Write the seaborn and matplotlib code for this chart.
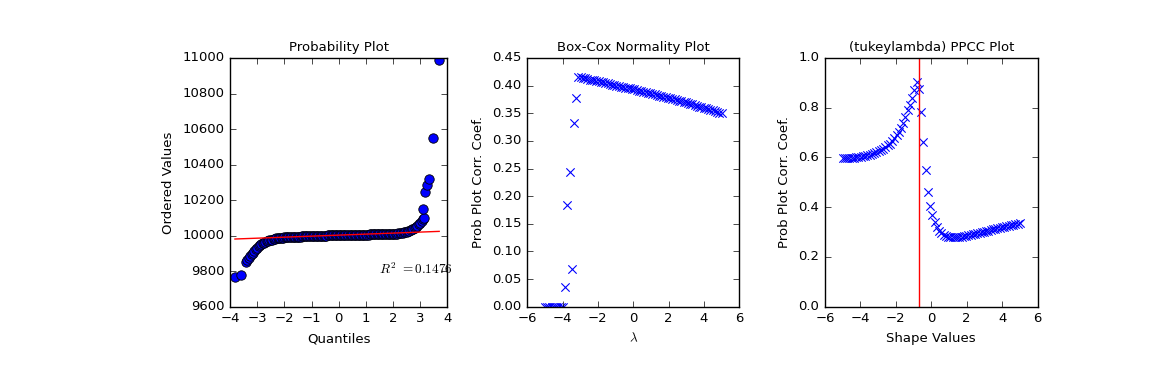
import matplotlib
matplotlib.use("Agg")
import matplotlib.pyplot as plt
import seaborn as sns

# ---------------- data ----------------
# probability plot: theoretical quantiles vs ordered values
quantiles = [
    -3.82, -3.58, -3.42, -3.36, -3.30, -3.25, -3.20, -3.15, -3.10, -3.05,
    -3.00, -2.95, -2.90, -2.85, -2.80, -2.75, -2.70, -2.65, -2.60, -2.55,
    -2.50, -2.45, -2.40, -2.35, -2.30, -2.25, -2.20, -2.15, -2.10, -2.05,
    -2.00, -1.95, -1.90, -1.85, -1.80, -1.75, -1.70, -1.65, -1.60, -1.55,
    -1.50, -1.45, -1.40, -1.35, -1.30, -1.25, -1.20, -1.15, -1.10, -1.05,
    -1.00, -0.95, -0.90, -0.85, -0.80, -0.75, -0.70, -0.65, -0.60, -0.55,
    -0.50, -0.45, -0.40, -0.35, -0.30, -0.25, -0.20, -0.15, -0.10, -0.05,
    0.00, 0.05, 0.10, 0.15, 0.20, 0.25, 0.30, 0.35, 0.40, 0.45,
    0.50, 0.55, 0.60, 0.65, 0.70, 0.75, 0.80, 0.85, 0.90, 0.95,
    1.00, 1.05, 1.10, 1.15, 1.20, 1.25, 1.30, 1.35, 1.40, 1.45,
    1.50, 1.55, 1.60, 1.65, 1.70, 1.75, 1.80, 1.85, 1.90, 1.95,
    2.00, 2.05, 2.10, 2.15, 2.20, 2.25, 2.30, 2.35, 2.40, 2.45,
    2.50, 2.55, 2.60, 2.65, 2.70, 2.75, 2.80, 2.85, 2.90, 2.95,
    3.00, 3.05, 3.10, 3.14, 3.12, 3.17, 3.26, 3.32, 3.47, 3.70,
]
ordered_values = [
    9768, 9777, 9852, 9862, 9872, 9885, 9895, 9905, 9915, 9925,
    9932, 9940, 9946, 9952, 9957, 9961, 9965, 9968, 9971, 9974,
    9976, 9978, 9980, 9982, 9984, 9985, 9986, 9987, 9988, 9989,
    9990, 9990, 9991, 9991, 9992, 9992, 9993, 9993, 9994, 9994,
    9995, 9995, 9995, 9996, 9996, 9996, 9997, 9997, 9997, 9998,
    9998, 9998, 9998, 9999, 9999, 9999, 9999, 10000, 10000, 10000,
    10000, 10000, 10001, 10001, 10001, 10001, 10001, 10002, 10002, 10002,
    10002, 10002, 10002, 10003, 10003, 10003, 10003, 10003, 10004, 10004,
    10004, 10004, 10004, 10005, 10005, 10005, 10005, 10005, 10006, 10006,
    10006, 10006, 10006, 10007, 10007, 10007, 10007, 10007, 10007, 10008,
    10008, 10008, 10008, 10008, 10008, 10008, 10008, 10008, 10009, 10009,
    10009, 10010, 10011, 10012, 10013, 10014, 10016, 10017, 10019, 10021,
    10023, 10025, 10028, 10031, 10035, 10039, 10044, 10050, 10056, 10063,
    10070, 10080, 10092, 10098, 10148, 10247, 10285, 10318, 10548, 10988,
]
fit_x = [-3.82, 3.70]
fit_y = [9981, 10024]
r_squared = 0.1476

# shape / lambda grid shared by the two PPCC-type plots
shape_grid = [
    -5.000, -4.873, -4.747, -4.620, -4.494, -4.367, -4.241, -4.114, -3.987, -3.861,
    -3.734, -3.608, -3.481, -3.354, -3.228, -3.101, -2.975, -2.848, -2.722, -2.595,
    -2.468, -2.342, -2.215, -2.089, -1.962, -1.835, -1.709, -1.582, -1.456, -1.329,
    -1.203, -1.076, -0.949, -0.823, -0.696, -0.570, -0.443, -0.316, -0.190, -0.063,
    0.063, 0.190, 0.316, 0.443, 0.570, 0.696, 0.823, 0.949, 1.076, 1.203,
    1.329, 1.456, 1.582, 1.709, 1.835, 1.962, 2.089, 2.215, 2.342, 2.468,
    2.595, 2.722, 2.848, 2.975, 3.101, 3.228, 3.354, 3.481, 3.608, 3.734,
    3.861, 3.987, 4.114, 4.241, 4.367, 4.494, 4.620, 4.747, 4.873, 5.000,
]
boxcox_ppcc = [
    0.000, 0.000, 0.000, 0.000, 0.000, 0.000, 0.000, 0.000, 0.000, 0.036,
    0.184, 0.243, 0.068, 0.332, 0.378, 0.416, 0.415, 0.414, 0.413, 0.412,
    0.411, 0.411, 0.410, 0.409, 0.408, 0.407, 0.406, 0.405, 0.404, 0.403,
    0.402, 0.401, 0.400, 0.399, 0.398, 0.397, 0.396, 0.396, 0.395, 0.394,
    0.393, 0.392, 0.391, 0.390, 0.389, 0.388, 0.387, 0.386, 0.385, 0.384,
    0.383, 0.382, 0.381, 0.380, 0.379, 0.378, 0.377, 0.376, 0.375, 0.374,
    0.373, 0.372, 0.371, 0.370, 0.368, 0.367, 0.366, 0.365, 0.364, 0.362,
    0.361, 0.360, 0.359, 0.357, 0.356, 0.355, 0.354, 0.352, 0.351, 0.350,
]
tukey_ppcc = [
    0.597, 0.597, 0.597, 0.598, 0.598, 0.599, 0.600, 0.601, 0.602, 0.604,
    0.606, 0.608, 0.610, 0.613, 0.617, 0.621, 0.626, 0.631, 0.636, 0.642,
    0.650, 0.656, 0.668, 0.680, 0.690, 0.703, 0.718, 0.737, 0.763, 0.790,
    0.812, 0.838, 0.870, 0.902, 0.876, 0.784, 0.663, 0.549, 0.463, 0.405,
    0.368, 0.342, 0.320, 0.305, 0.295, 0.288, 0.284, 0.281, 0.280, 0.279,
    0.279, 0.279, 0.280, 0.281, 0.283, 0.285, 0.287, 0.289, 0.291, 0.293,
    0.295, 0.297, 0.300, 0.302, 0.304, 0.306, 0.309, 0.311, 0.313, 0.315,
    0.318, 0.320, 0.322, 0.324, 0.326, 0.328, 0.330, 0.332, 0.334, 0.336,
]
best_shape = -0.72

# ---------------- style: old matplotlib look ----------------
plt.style.use("classic")
plt.rcParams.update({
    "font.size": 9.5,
    "axes.titlesize": 9.5,
    "axes.labelsize": 9.5,
    "xtick.labelsize": 9.5,
    "ytick.labelsize": 9.5,
    "mathtext.fontset": "cm",
    "figure.facecolor": "white",
    "savefig.facecolor": "white",
})

fig = plt.figure(figsize=(11.52, 3.84), dpi=100)
ax1 = fig.add_axes([0.1997, 0.2013, 0.1886, 0.6477])
ax2 = fig.add_axes([0.4577, 0.2013, 0.1840, 0.6477])
ax3 = fig.add_axes([0.7161, 0.2013, 0.1846, 0.6477])

# -------------------------------
# probability plot
# -------------------------------
sns.scatterplot(x=quantiles, y=ordered_values, ax=ax1, color="b",
                edgecolor="k", linewidth=0.6, s=46, marker="o")
sns.lineplot(x=fit_x, y=fit_y, ax=ax1, color="r", linewidth=1)
ax1.text(1.5, 9785, r"$R^2\ {=}%1.4f$" % r_squared)
ax1.set_xlim(-4, 4)
ax1.set_ylim(9600, 11000)
ax1.set_xticks(range(-4, 5))
ax1.set_yticks(range(9600, 11001, 200))
ax1.set_title("Probability Plot")
ax1.set_xlabel("Quantiles")
ax1.set_ylabel("Ordered Values")

# -------------------------------
# Box-Cox normality plot
# -------------------------------
sns.scatterplot(x=shape_grid, y=boxcox_ppcc, ax=ax2, color="b",
                marker="x", s=36, linewidth=0.8)
ax2.set_xlim(-6, 6)
ax2.set_ylim(0, 0.45)
ax2.set_yticks([i * 0.05 for i in range(10)])
ax2.set_title("Box-Cox Normality Plot")
ax2.set_xlabel(r"$\lambda$")
ax2.set_ylabel("Prob Plot Corr. Coef.")

# -------------------------------
# tukeylambda PPCC plot
# -------------------------------
sns.scatterplot(x=shape_grid, y=tukey_ppcc, ax=ax3, color="b",
                marker="x", s=36, linewidth=0.8)
ax3.axvline(best_shape, color="r", linewidth=1)
ax3.set_xlim(-6, 6)
ax3.set_ylim(0, 1.0)
ax3.set_yticks([0.0, 0.2, 0.4, 0.6, 0.8, 1.0])
ax3.set_title("(tukeylambda) PPCC Plot")
ax3.set_xlabel("Shape Values")
ax3.set_ylabel("Prob Plot Corr. Coef.")

fig.savefig("out.png", dpi=100)
